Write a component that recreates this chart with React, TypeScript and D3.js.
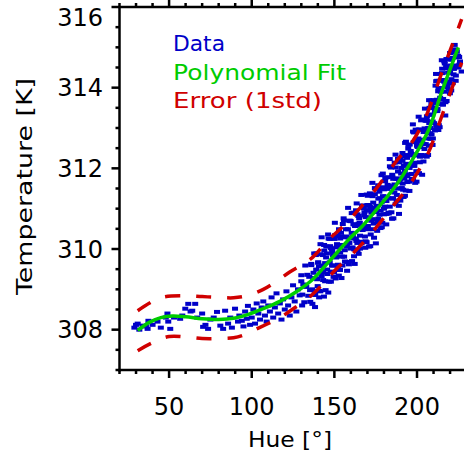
import React from "react";
import * as d3 from "d3";

const xTicks = [50, 100, 150, 200];
const yTicks = [308, 310, 312, 314, 316];

const fitHue = [31, 38, 45, 52, 60, 70, 80, 90, 98, 107, 117, 127, 137, 147, 159, 167, 177, 187, 197, 207, 215, 225];
const fitTemp = [307.98, 308.18, 308.3, 308.34, 308.32, 308.27, 308.25, 308.29, 308.38, 308.52, 308.7, 308.94, 309.25, 309.7, 310.25, 310.57, 311.05, 311.56, 312.2, 312.95, 313.9, 315.0];

const upperHue = [31, 40, 47, 60, 70, 80, 89, 98, 107, 115, 123, 130, 137, 147, 155, 163, 175, 187, 197, 205, 215, 222, 227];
const upperTemp = [308.47, 308.7, 308.81, 308.84, 308.82, 308.8, 308.79, 308.85, 309.0, 309.2, 309.43, 309.6, 309.8, 310.25, 310.55, 310.9, 311.48, 312.15, 312.65, 313.25, 314.37, 315.14, 315.7];

const lowerHue = [31, 40, 50, 60, 70, 80, 89, 96, 103, 111, 119, 127, 135, 143, 151, 161, 173, 185, 195, 207, 212, 219, 227];
const lowerTemp = [307.48, 307.68, 307.83, 307.82, 307.78, 307.78, 307.8, 307.88, 308.02, 308.17, 308.35, 308.57, 308.81, 309.13, 309.5, 309.88, 310.42, 311.04, 311.56, 312.4, 312.95, 313.75, 314.62];

const dataHue = [
  29, 30, 31, 32, 34, 36, 37.5, 37, 40, 43, 45, 48, 49, 49.5, 50.7,
  53, 56.7, 58, 59.8, 61.6, 63, 64, 65.8, 67, 70, 70.6, 72, 73.6, 75, 77, 79, 81, 82.7, 83.9, 85.7, 87, 88, 89.9, 91.7, 92.5, 94, 95, 96, 97, 97.7, 99,
  100, 101, 102, 103, 104, 105, 106, 107, 108, 109, 110, 111, 112, 113, 114, 115, 116, 117, 118, 119, 120, 121, 122, 123, 124, 125, 126, 127, 128, 129, 130, 130.5,
  130.0, 130.6, 131.2, 131.8, 132.4, 133.0, 133.6, 134.2, 134.8, 135.4, 136.0, 136.6, 137.2, 137.8, 138.4, 139.0, 139.6, 140.2, 140.8, 141.4,
  142.0, 142.6, 143.2, 143.8, 144.4, 145.0, 145.6, 146.2, 146.8, 147.4, 148.0, 148.6, 149.2, 149.8, 150.4, 151.0, 151.6, 152.2, 152.8, 153.4,
  154.0, 154.6, 155.2, 155.8, 156.4, 157.0, 157.6, 158.2, 158.8, 159.4,
  160.0, 160.5, 161.0, 161.5, 162.0, 162.5, 163.0, 163.5, 164.0, 164.5, 165.0, 165.5, 166.0, 166.5, 167.0, 167.5, 168.0, 168.5, 169.0, 169.5,
  170.0, 170.5, 171.0, 171.5, 172.0, 172.5, 173.0, 173.5, 174.0, 174.5, 175.0, 175.5, 176.0, 176.5, 177.0, 177.5, 178.0, 178.5, 179.0, 179.5,
  180.0, 180.5, 181.0, 181.5, 182.0, 182.5, 183.0, 183.5, 184.0, 184.5, 185.0, 185.5, 186.0, 186.5, 187.0, 187.5, 188.0, 188.5, 189.0, 189.5,
  190.0, 190.4, 190.8, 191.2, 191.6, 192.0, 192.4, 192.8, 193.2, 193.6, 194.0, 194.4, 194.8, 195.2, 195.6, 196.0, 196.4, 196.8, 197.2, 197.6,
  198.0, 198.4, 198.8, 199.2, 199.6, 200.0, 200.4, 200.8, 201.2, 201.6, 202.0, 202.4, 202.8, 203.2, 203.6, 204.0, 204.4, 204.8, 205.2, 205.6,
  206.0, 206.4, 206.8, 207.2, 207.6, 208.0, 208.4, 208.8, 209.2, 209.6, 210.0, 210.4, 210.8, 211.2, 211.6, 212.0, 212.4, 212.8, 213.2, 213.6,
  214.0, 214.4, 214.8, 215.2, 215.6, 216.0, 216.4, 216.8, 217.2, 217.6, 218.0, 218.4, 218.8, 219.2, 219.6, 220.0, 220.4, 220.8, 221.2, 221.6,
  222.0, 222.4, 223.0, 223.5, 224.0, 225.0, 226.0, 227.0,
  135.3, 136.0, 136.7, 137.4, 138.1, 138.8, 139.5, 140.2, 140.9, 141.6, 142.3, 143.0, 143.7, 144.4, 145.1, 145.8, 146.5, 147.2, 147.9, 148.6,
  149.3, 150.0, 150.7, 151.4, 152.1, 152.8, 153.5, 154.2, 154.9, 155.6, 156.3, 157.0, 157.7, 158.4, 159.1, 159.8, 160.5, 161.2, 161.9, 162.6,
  163.3, 164.0, 164.7, 165.4, 166.1, 166.8, 167.5, 168.2, 168.9, 169.6, 170.3, 171.0, 171.7, 172.4, 173.1, 173.8, 174.5, 175.2, 175.9, 176.6,
  177.3, 178.0, 178.7, 179.4, 180.1, 180.8, 181.5, 182.2, 182.9, 183.6, 184.3, 185.0, 185.7, 186.4, 187.1, 187.8, 188.5, 189.2, 189.9, 190.6,
  191.3, 192.0, 192.7, 193.4, 194.1, 194.8, 195.5, 196.2, 196.9, 197.6, 198.3, 199.0, 199.7, 200.4, 201.1, 201.8, 202.5, 203.2, 203.9, 204.6,
  205.3, 206.0, 206.7, 207.4, 208.1, 208.8, 209.5, 210.2, 210.9, 211.6, 212.3, 213.0, 213.7, 214.4, 215.1, 215.8, 216.5, 217.2, 217.9, 218.6,
  219.3, 220.0, 220.7, 221.4, 222.1, 222.8, 223.5, 224.2, 224.9, 225.6,
  170.2, 170.9, 171.6, 172.3, 173.0, 173.7, 174.4, 175.1, 175.8, 176.5, 177.2, 177.9, 178.6, 179.3, 180.0, 180.7, 181.4, 182.1, 182.8, 183.5,
  184.2, 184.9, 185.6, 186.3, 187.0, 187.7, 188.4, 189.1, 189.8, 190.5, 191.2, 191.9, 192.6, 193.3, 194.0, 194.7, 195.4, 196.1, 196.8, 197.5,
  198.2, 198.9, 199.6, 200.3, 201.0, 201.7, 202.4, 203.1, 203.8, 204.5, 205.2, 205.9, 206.6, 207.3, 208.0, 208.7, 209.4, 210.1, 210.8, 211.5,
  212.2, 212.9, 213.6, 214.3, 215.0, 215.7, 216.4, 217.1, 217.8, 218.5, 219.2, 219.9, 220.6, 221.3, 222.0, 222.7, 223.4, 224.1, 224.8, 225.5,
  138.3, 139.1, 139.9, 140.7, 141.5, 142.3, 143.1, 143.9, 144.7, 145.5, 146.3, 147.1, 147.9, 148.7, 149.5, 150.3, 151.1, 151.9, 152.7, 153.5,
  154.3, 155.1, 155.9, 156.7, 157.5, 158.3, 159.1, 159.9, 160.7, 161.5, 162.3, 163.1, 163.9, 164.7, 165.5, 166.3, 167.1, 167.9, 168.7, 169.5
];

const dataTemp = [
  308.05, 308.12, 308.15, 308.0, 308.1, 308.08, 308.22, 308.02, 308.12, 308.2, 308.05, 308.3, 308.4, 308.2, 308.02,
  308.3, 308.27, 308.35, 308.52, 308.64, 308.45, 308.47, 308.64, 308.3, 308.4, 308.07, 308.12, 308.02, 308.25, 308.3, 308.44, 308.1, 308.02, 308.47, 308.15, 308.3, 308.05, 308.52, 308.2, 308.35, 308.22, 308.08, 308.45, 308.27, 308.59, 308.12,
  308.3, 308.5, 308.15, 308.65, 308.4, 308.25, 308.55, 308.7, 308.35, 308.2, 308.6, 308.45, 308.8, 308.3, 308.55, 308.9, 308.4, 308.65, 308.25, 308.75, 308.5, 308.95, 308.6, 308.35, 308.8, 309.1, 308.7, 308.45, 309.0, 308.85, 309.2, 308.6,
  309.35, 308.87, 309.12, 308.68, 309.59, 309.06, 309.36, 308.84, 309.31, 308.69, 309.6, 309.0, 309.28, 309.89, 308.86, 309.49, 309.25, 309.66, 308.8, 309.87,
  309.44, 309.59, 309.23, 310.1, 309.2, 309.79, 309.49, 310.36, 309.19, 310.07, 310.02, 309.59, 309.85, 309.42, 310.34, 309.82, 310.12, 309.61, 310.09, 309.48,
  310.4, 309.81, 310.1, 310.71, 309.69, 310.31, 310.07, 310.49, 309.62, 310.7,
  310.26, 310.4, 310.04, 310.9, 309.99, 310.57, 310.26, 311.13, 309.95, 310.82, 310.76, 310.33, 310.58, 310.14, 311.05, 310.52, 310.83, 310.31, 310.79, 310.17,
  311.09, 310.49, 310.78, 311.38, 310.36, 310.98, 310.74, 311.15, 310.28, 311.36, 310.92, 311.07, 310.71, 311.58, 310.67, 311.26, 310.95, 311.83, 310.65, 311.53,
  311.48, 311.05, 311.3, 310.87, 311.78, 311.26, 311.57, 311.05, 311.53, 310.91, 311.84, 311.25, 311.53, 312.14, 311.11, 311.74, 311.5, 311.92, 311.07, 312.15,
  311.72, 311.87, 311.51, 312.38, 311.47, 312.06, 311.75, 312.63, 311.45, 312.33, 312.26, 311.85, 312.11, 311.67, 312.59, 312.07, 312.37, 311.86, 312.33, 311.72,
  312.65, 312.06, 312.35, 312.96, 311.93, 312.56, 312.32, 312.74, 311.88, 312.96, 312.53, 312.68, 312.33, 313.2, 312.3, 312.9, 312.6, 313.48, 312.32, 313.2,
  313.18, 312.74, 313.0, 312.56, 313.5, 313.0, 313.33, 312.84, 313.33, 312.74, 313.69, 313.12, 313.42, 314.05, 313.05, 313.7, 313.47, 313.91, 313.07, 314.17,
  313.75, 313.92, 313.59, 314.47, 313.59, 314.19, 313.9, 314.6, 313.64, 314.53, 314.48, 314.09, 314.37, 313.95, 314.7, 314.38, 314.7, 314.21, 314.7, 314.11,
  314.87, 314.47, 314.55, 314.3, 314.8, 314.5, 314.65, 314.4,
  308.98, 309.63, 308.64, 309.41, 308.95, 309.85, 309.27, 309.67, 308.96, 310.12, 309.33, 309.85, 308.82, 309.65, 310.06, 309.38, 310.26, 309.67, 309.19, 309.99,
  309.59, 310.25, 309.27, 310.04, 309.58, 310.49, 309.91, 310.31, 309.59, 310.76, 309.97, 310.49, 309.46, 310.29, 310.7, 310.01, 310.89, 310.3, 309.82, 310.61,
  310.2, 310.86, 309.88, 310.65, 310.18, 311.08, 310.5, 310.91, 310.19, 311.35, 310.57, 311.09, 310.07, 310.9, 311.31, 310.63, 311.51, 310.92, 310.45, 311.25,
  310.85, 311.51, 310.54, 311.31, 310.86, 311.76, 311.19, 311.59, 310.88, 312.05, 311.26, 311.79, 310.76, 311.6, 312.02, 311.34, 312.24, 311.66, 311.2, 312.01,
  311.62, 312.29, 311.32, 312.11, 311.66, 312.58, 312.01, 312.43, 311.72, 312.91, 312.14, 312.68, 311.67, 312.53, 312.96, 312.29, 313.19, 312.63, 312.17, 312.99,
  312.6, 313.29, 312.33, 313.12, 312.73, 313.68, 313.16, 313.61, 312.94, 314.16, 313.42, 313.99, 313.02, 313.9, 314.36, 313.72, 314.65, 314.1, 313.67, 314.52,
  314.15, 314.86, 313.93, 314.74, 314.33, 315.06, 314.75, 314.51, 314.79, 314.57,
  311.32, 310.06, 311.04, 310.7, 311.64, 310.49, 311.02, 310.14, 311.49, 310.75, 311.42, 310.52, 311.16, 311.87, 311.0, 311.68, 310.61, 311.49, 310.9, 312.23,
  312.02, 310.75, 311.74, 311.4, 312.34, 311.2, 311.75, 310.87, 312.24, 311.5, 312.19, 311.29, 311.94, 312.66, 311.81, 312.49, 311.44, 312.32, 311.74, 313.09,
  312.89, 311.64, 312.65, 312.33, 313.28, 312.15, 312.71, 311.84, 313.21, 312.48, 313.18, 312.29, 312.95, 313.69, 312.87, 313.59, 312.58, 313.5, 312.95, 314.34,
  314.17, 312.95, 313.99, 313.7, 314.68, 313.58, 314.15, 313.31, 314.71, 314.01, 314.72, 313.86, 314.55, 314.89, 314.47, 314.95, 314.17, 314.9, 314.53, 314.76,
  308.56, 309.89, 309.08, 309.57, 308.95, 310.29, 309.42, 309.96, 308.98, 309.89, 308.92, 310.25, 309.44, 309.93, 309.31, 310.65, 309.79, 310.32, 309.34, 310.26,
  309.28, 310.62, 309.81, 310.29, 309.68, 311.02, 310.15, 310.69, 309.7, 310.61, 309.63, 310.96, 310.15, 310.63, 310.01, 311.34, 310.47, 311.01, 310.03, 310.95
];

const W = 464;
const H = 457;
const font = "'DejaVu Sans', sans-serif";

export default function App() {
  const x = d3.scaleLinear().domain([20, 230]).range([119.5, 466.6]);
  const y = d3.scaleLinear().domain([307, 316]).range([370, 7]);

  const xMinor = d3.range(20, 231, 10);
  const yMinor = d3.range(307, 316.01, 0.5);

  const line = d3
    .line<[number, number]>()
    .x((d) => x(d[0]))
    .y((d) => y(d[1]))
    .curve(d3.curveCatmullRom.alpha(0.5));

  const fitPts: [number, number][] = fitHue.map((h, i) => [h, fitTemp[i]]);
  const upPts: [number, number][] = upperHue.map((h, i) => [h, upperTemp[i]]);
  const loPts: [number, number][] = lowerHue.map((h, i) => [h, lowerTemp[i]]);

  const blue = "#0000c8";
  const green = "#00cc00";
  const red = "#d00000";

  const left = x(20);
  const bottom = y(307);
  const top = y(316);

  return (
    <svg
      width={W}
      height={H}
      style={{ position: "absolute", left: 0, top: 0, background: "#fff" }}
    >
      <defs>
        <clipPath id="plotClip">
          <rect x={left} y={top} width={W - left} height={bottom - top} />
        </clipPath>
      </defs>
      <g clipPath="url(#plotClip)">
        {dataHue.map((h, i) => (
          <rect
            key={i}
            x={x(h) - 3}
            y={y(dataTemp[i]) - 2}
            width={6}
            height={4}
            fill={blue}
          />
        ))}
        <path d={line(upPts) || ""} fill="none" stroke={red} strokeWidth={3.5} strokeDasharray="15 16" />
        <path d={line(loPts) || ""} fill="none" stroke={red} strokeWidth={3.5} strokeDasharray="15 16" />
        <path d={line(fitPts) || ""} fill="none" stroke={green} strokeWidth={3.5} />
      </g>

      <line x1={left} x2={left} y1={top - 1} y2={bottom + 1.5} stroke="#000" strokeWidth={2.5} />
      <line x1={left - 1} x2={W} y1={bottom} y2={bottom} stroke="#000" strokeWidth={2.5} />
      <line x1={left - 1} x2={W} y1={top} y2={top} stroke="#000" strokeWidth={2.5} />

      {xMinor.map((v) => {
        const major = v % 50 === 0;
        const len = major ? 8 : 4;
        return (
          <g key={"xt" + v}>
            <line x1={x(v)} x2={x(v)} y1={bottom} y2={bottom + len} stroke="#000" strokeWidth={2.5} />
            <line x1={x(v)} x2={x(v)} y1={top} y2={top - len} stroke="#000" strokeWidth={2.5} />
          </g>
        );
      })}
      {yMinor.map((v) => {
        const major = Math.abs(v % 2) < 1e-6;
        const len = major ? 8 : 4;
        return <line key={"yt" + v} x1={left} x2={left - len} y1={y(v)} y2={y(v)} stroke="#000" strokeWidth={2.5} />;
      })}

      {xTicks.map((v) => (
        <text key={"xl" + v} x={x(v)} y={415} textAnchor="middle" fontFamily={font} fontSize={24} fill="#000">
          {v}
        </text>
      ))}
      {yTicks.map((v) => (
        <text
          key={"yl" + v}
          x={103}
          y={Math.max(y(v), 17)}
          dy="0.36em"
          textAnchor="end"
          fontFamily={font}
          fontSize={24}
          fill="#000"
        >
          {v}
        </text>
      ))}

      <text x={290} y={447} textAnchor="middle" fontFamily={font} fontSize={22} textLength={84} lengthAdjust="spacingAndGlyphs" fill="#000">
        Hue [°]
      </text>
      <text
        transform={`translate(32,186.5) rotate(-90)`}
        textAnchor="middle"
        fontFamily={font}
        fontSize={22}
        textLength={217}
        lengthAdjust="spacingAndGlyphs"
        fill="#000"
      >
        Temperature [K]
      </text>

      <text x={173} y={51} fontFamily={font} fontSize={22} textLength={52} lengthAdjust="spacingAndGlyphs" fill={blue}>Data</text>
      <text x={173} y={80} fontFamily={font} fontSize={22} textLength={173} lengthAdjust="spacingAndGlyphs" fill={green}>Polynomial Fit</text>
      <text x={173} y={108} fontFamily={font} fontSize={22} textLength={149} lengthAdjust="spacingAndGlyphs" fill={red}>Error (1std)</text>
    </svg>
  );
}
